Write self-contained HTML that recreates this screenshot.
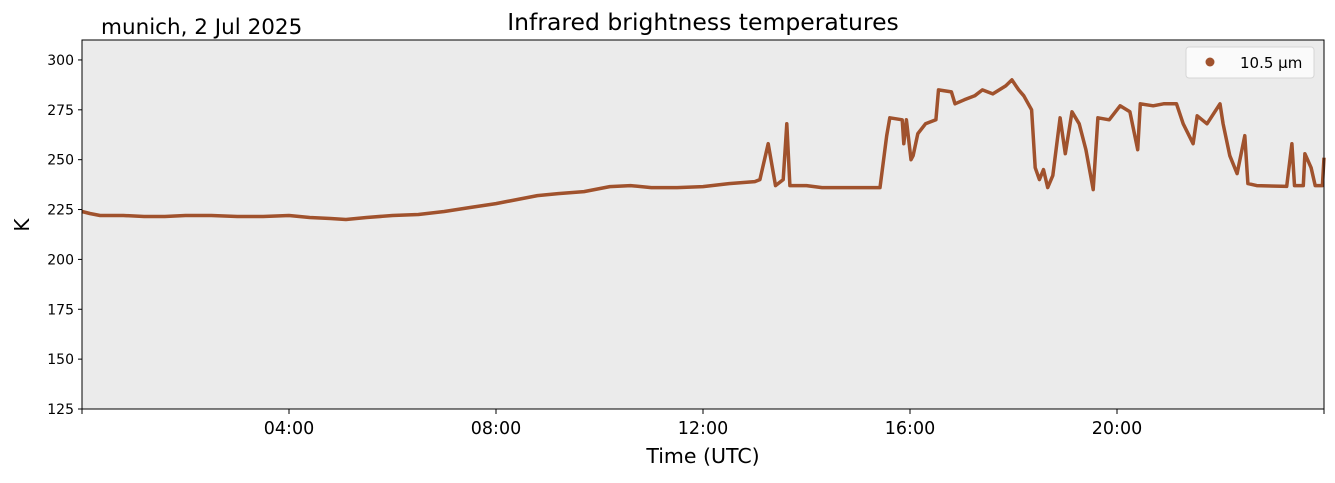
<!DOCTYPE html>
<html><head><meta charset="utf-8"><style>
body{margin:0;background:#fff;width:1335px;height:478px;overflow:hidden;font-family:"Liberation Sans","DejaVu Sans",sans-serif}
</style></head><body>
<svg id="chart" width="1335" height="478" xmlns="http://www.w3.org/2000/svg" font-family="DejaVu Sans, Liberation Sans, sans-serif">
<rect x="82" y="40" width="1242" height="369" fill="#ebebeb"/>
<g id="marks"></g>
<rect x="82" y="40" width="1242" height="369" fill="none" stroke="#000" stroke-width="1"/>
<g id="axes"></g>
<text x="703" y="30" font-size="23.5" text-anchor="middle">Infrared brightness temperatures</text>
<text x="101" y="34" font-size="21.5">munich, 2 Jul 2025</text>
<text x="703" y="463" font-size="20.5" text-anchor="middle">Time (UTC)</text>
<text x="29" y="225" font-size="20" text-anchor="middle" transform="rotate(-90 29 225)">K</text>
<g>
<rect x="1186" y="47" width="128" height="31" rx="3" fill="#fafafa" stroke="#d6d6d6"/>
<circle cx="1210" cy="62" r="4.5" fill="#a0522d"/>
<text x="1240" y="68" font-size="15">10.5 µm</text>
</g>
</svg>
<script>
const hours=[0,0.15,0.35,0.8,1.2,1.6,2,2.5,3,3.5,4,4.4,4.8,5.1,5.5,6,6.5,7,7.5,8,8.4,8.8,9.2,9.7,10.2,10.6,11,11.5,12,12.5,13,13.1,13.26,13.4,13.55,13.62,13.68,14,14.3,14.6,15,15.42,15.55,15.61,15.85,15.88,15.93,16.02,16.06,16.15,16.3,16.5,16.55,16.8,16.87,17.05,17.25,17.4,17.6,17.85,17.97,18.1,18.2,18.35,18.42,18.5,18.58,18.66,18.76,18.9,19.0,19.13,19.27,19.4,19.54,19.63,19.85,20.06,20.25,20.4,20.45,20.7,20.9,21.15,21.28,21.47,21.55,21.74,21.99,22.05,22.18,22.32,22.47,22.53,22.7,23.28,23.38,23.43,23.6,23.63,23.75,23.83,23.97,24];
const temps=[224,223,222,222,221.5,221.5,222,222,221.5,221.5,222,221,220.5,220,221,222,222.5,224,226,228,230,232,233,234,236.5,237,236,236,236.5,238,239,240,258,237,240,268,237,237,236,236,236,236,262,271,270,258,270,250,252,263,268,270,285,284,278,280,282,285,283,287,290,285,282,275,246,240,245,236,242,271,253,274,268,255,235,271,270,277,274,255,278,277,278,278,268,258,272,268,278,268,252,243,262,238,237,236.6,258,237,237,253,246,237,237,251];
const yTicks=[125,150,175,200,225,250,275,300];
const xTicks=[4,8,12,16,20];
const xTickLabels=["04:00","08:00","12:00","16:00","20:00"];
const X=h=>82+h*(1242/24);
const Y=k=>409-(k-125)*(369/185);
const NS="http://www.w3.org/2000/svg";
const marks=document.getElementById('marks');
const line=document.createElementNS(NS,'polyline');


line.setAttribute('points',hours.map((h,i)=>X(h).toFixed(1)+','+Y(temps[i]).toFixed(1)).join(' '));
line.setAttribute('fill','none');line.setAttribute('stroke','#a0522d');line.setAttribute('stroke-width','3.5');line.setAttribute('stroke-linejoin','round');
marks.appendChild(line);
const axes=document.getElementById('axes');
yTicks.forEach(v=>{
 const t=document.createElementNS(NS,'line');
 
 
 t.setAttribute('x1',78);t.setAttribute('x2',82);t.setAttribute('y1',Y(v));t.setAttribute('y2',Y(v));t.setAttribute('stroke','#000');
 axes.appendChild(t);
 const l=document.createElementNS(NS,'text');
 
 
 l.setAttribute('x',74);l.setAttribute('y',Y(v)+5);l.setAttribute('text-anchor','end');l.setAttribute('font-size','14');
 l.textContent=v;axes.appendChild(l);
});
[0,24].concat(xTicks).forEach(h=>{
 const t=document.createElementNS(NS,'line');
 
 
 t.setAttribute('x1',X(h));t.setAttribute('x2',X(h));t.setAttribute('y1',409);t.setAttribute('y2',414);t.setAttribute('stroke','#000');
 axes.appendChild(t);
});
xTicks.forEach((h,i)=>{
 const l=document.createElementNS(NS,'text');
 
 
 l.setAttribute('x',X(h));l.setAttribute('y',434);l.setAttribute('text-anchor','middle');l.setAttribute('font-size','17.5');
 l.textContent=xTickLabels[i];axes.appendChild(l);
});
</script>
</body></html>
